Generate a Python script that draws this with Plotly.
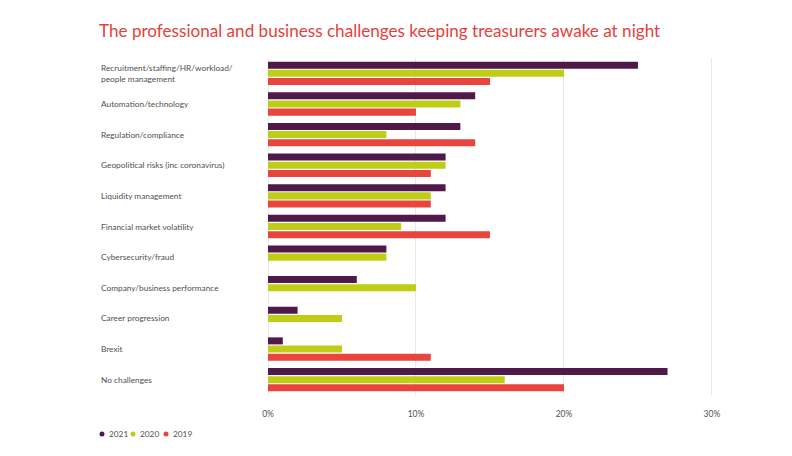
import plotly.graph_objects as go

categories = [
    "Recruitment/staffing/HR/workload/<br>people management",
    "Automation/technology",
    "Regulation/compliance",
    "Geopolitical risks (inc coronavirus)",
    "Liquidity management",
    "Financial market volatility",
    "Cybersecurity/fraud",
    "Company/business performance",
    "Career progression",
    "Brexit",
    "No challenges",
]
series_names = ["2021", "2020", "2019"]
values_2021 = [25, 14, 13, 12, 12, 12, 8, 6, 2, 1, 27]
values_2020 = [20, 13, 8, 12, 11, 9, 8, 10, 5, 5, 16]
values_2019 = [15, 10, 14, 11, 11, 15, None, None, None, 11, 20]
x_ticks = [0, 10, 20, 30]
x_tick_labels = ["0%", "10%", "20%", "30%"]

colors = ["#4f1a49", "#bfcd16", "#e9453f"]
series_values = [values_2021, values_2020, values_2019]

# page body has an 8px margin, so figure coords = screen coords - 8
OFF = 8
W, H = 792 - OFF, 456 - OFF
L, T = 268 - OFF, 58 - OFF
R = W - (713 - OFF)
B = H - (395 - OFF)
plot_w = W - L - R
plot_h = H - T - B

def px_x(sx):
    return (sx - OFF - L) / plot_w

def px_y(sy):
    return (H - B - (sy - OFF)) / plot_h

fig = go.Figure()
for name, vals, col in zip(series_names, series_values, colors):
    fig.add_trace(go.Bar(
        y=categories, x=vals, name=name, orientation="h",
        marker=dict(color=col, line=dict(width=0)),
        showlegend=False, hoverinfo="x+name",
    ))

FONT = "Lato, sans-serif"
TXT = "#505050"
label_x = px_x(99)
for c in categories:
    fig.add_annotation(
        x=label_x, xref="paper", y=c, yref="y", text=c, showarrow=False,
        xanchor="left", yanchor="middle", align="left",
        font=dict(family=FONT, size=8.3, color=TXT),
    )

# legend (circle + label)
legend_marker_x = [102, 133, 166]
legend_y = 434
for name, col, mx in zip(series_names, colors, legend_marker_x):
    fig.add_shape(
        type="circle", xref="paper", yref="paper",
        xsizemode="pixel", ysizemode="pixel",
        xanchor=px_x(mx), yanchor=px_y(legend_y),
        x0=-2.5, x1=2.5, y0=-2.5, y1=2.5,
        fillcolor=col, line=dict(width=0),
    )
    fig.add_annotation(
        x=px_x(mx + 5), xref="paper", y=px_y(legend_y), yref="paper",
        text=name, showarrow=False, xanchor="left", yanchor="middle",
        font=dict(family=FONT, size=8.3, color=TXT),
    )

fig.update_layout(
    width=W, height=H,
    margin=dict(l=L, r=R, t=T, b=B, pad=0),
    paper_bgcolor="white", plot_bgcolor="white",
    barmode="group", bargap=0.2, bargroupgap=0.14,
    showlegend=False,
    title=dict(
        text="The professional and business challenges keeping treasurers awake at night",
        x=(99 - OFF) / W, xanchor="left", y=1 - (31 - OFF) / H, yanchor="middle",
        font=dict(family=FONT, size=17.1, color="#e63f3b"),
    ),
    xaxis=dict(
        range=[0, 30.07], tickvals=x_ticks, ticktext=x_tick_labels,
        showgrid=True, gridcolor="#e8e8e8", gridwidth=1,
        zeroline=True, zerolinecolor="#e8e8e8", zerolinewidth=1,
        showline=False, ticks="", ticklabelstandoff=12,
        tickfont=dict(family=FONT, size=8.5, color=TXT),
        fixedrange=True,
    ),
    yaxis=dict(
        autorange="reversed", showticklabels=False, showgrid=False,
        zeroline=False, showline=False, ticks="", fixedrange=True,
    ),
    font=dict(family=FONT),
)

fig.write_html("out.html")
